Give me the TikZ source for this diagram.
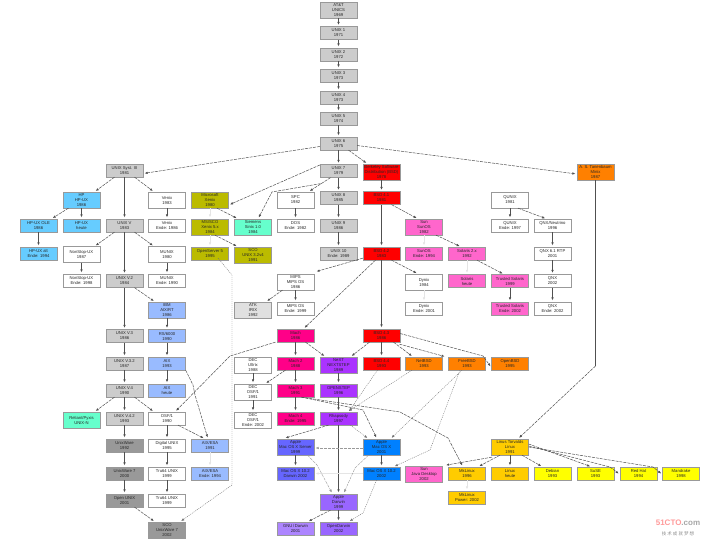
\documentclass[tikz,border=0pt]{standalone}
\usepackage{fontspec}
\setmainfont{Liberation Sans}
\newfontfamily\cjkfont{Noto Sans CJK SC}
\usetikzlibrary{arrows.meta,shadows}
\definecolor{cgrey}{HTML}{CCCCCC}
\definecolor{cdark}{HTML}{999999}
\definecolor{clight}{HTML}{E0E0E0}
\definecolor{cred}{HTML}{FF0000}
\definecolor{corange}{HTML}{FF8000}
\definecolor{cyellow}{HTML}{FFFF00}
\definecolor{cgold}{HTML}{FFCC00}
\definecolor{cpink}{HTML}{FF66CC}
\definecolor{cmach}{HTML}{FF0088}
\definecolor{cnext}{HTML}{AA33FF}
\definecolor{capple}{HTML}{0080FF}
\definecolor{cindigo}{HTML}{6666FF}
\definecolor{cviolet}{HTML}{9966FF}
\definecolor{csky}{HTML}{66CCFF}
\definecolor{cperi}{HTML}{99BBFF}
\definecolor{csea}{HTML}{66FFCC}
\definecolor{colive}{HTML}{BBBB00}
\definecolor{cline}{HTML}{505050}
\tikzstyle{sysbox}=[draw=black!40,line width=.3pt,fill=white,text=black!85,inner sep=0pt,align=center,
  minimum width=37pt,minimum height=13pt,font=\fontsize{4.2}{5}\selectfont,
  drop shadow={shadow xshift=.8pt,shadow yshift=-.8pt,fill=black!55,opacity=.7}]
\tikzstyle{tallbox}=[sysbox,minimum height=16pt]
\tikzstyle{solidline}=[draw=cline,line width=.5pt,shorten >=1.5pt,-{Latex[length=3pt,width=2.5pt]}]
\tikzstyle{dashline}=[solidline,dash pattern=on 3pt off 1pt]
\tikzstyle{dotline}=[solidline,draw=black!55,line width=.4pt,dash pattern=on 1pt off 1pt]
\tikzstyle{paleline}=[dashline,draw=black!40,line width=.4pt]
\tikzstyle{faintline}=[solidline,draw=black!10]
\begin{document}
\begin{tikzpicture}[x=1pt,y=-1pt]
    \useasboundingbox (0,0) rectangle (720,540);
    % main line
    \node [tallbox,fill=cgrey] (unics) at (338.5,10) {AT\&T\\UNICS\\1969};
    \node [sysbox,fill=cgrey] (unixa) at (338.5,33) {UNIX 1\\1971};
    \node [sysbox,fill=cgrey] (unixb) at (338.5,54.5) {UNIX 2\\1972};
    \node [sysbox,fill=cgrey] (unixc) at (338.5,75.5) {UNIX 3\\1973};
    \node [sysbox,fill=cgrey] (unixd) at (338.5,97.5) {UNIX 4\\1973};
    \node [sysbox,fill=cgrey] (unixe) at (338.5,118.5) {UNIX 5\\1974};
    \node [sysbox,fill=cgrey] (unixf) at (338.5,143.5) {UNIX 6\\1975};
    \node [sysbox,fill=cgrey] (unixg) at (338.5,171) {UNIX 7\\1979};
    \node [sysbox,fill=cgrey] (unixh) at (338.5,198) {UNIX 8\\1985};
    \node [sysbox,fill=cgrey] (unixi) at (338.5,225.5) {UNIX 9\\1986};
    \node [sysbox,fill=cgrey] (unixj) at (338.5,253.5) {UNIX 10\\Ende: 1989};
    % system v
    \node [sysbox,fill=cgrey] (sysiii) at (124.5,170.5) {UNIX Syst. III\\1981};
    \node [sysbox,fill=cgrey] (sysv) at (124.5,225.5) {UNIX V\\1983};
    \node [sysbox,fill=cgrey] (svb) at (124.5,281) {UNIX V.2\\1984};
    \node [sysbox,fill=cgrey] (svc) at (124.5,336) {UNIX V.3\\1986};
    \node [sysbox,fill=cgrey] (svd) at (124.5,363.5) {UNIX V.3.2\\1987};
    \node [sysbox,fill=cgrey] (sve) at (124.5,390.5) {UNIX V.4\\1990};
    \node [sysbox,fill=cgrey] (svf) at (124.5,418.5) {UNIX V.4.2\\1993};
    \node [sysbox,fill=cdark] (uware) at (124.5,445.5) {UnixWare\\1992};
    \node [sysbox,fill=cdark] (uwseven) at (124.5,473.5) {UnixWare 7\\2000};
    \node [sysbox,fill=cdark] (openunix) at (124.5,500.5) {Open UNIX\\2001};
    \node [tallbox,fill=cdark] (scowr) at (167,530) {SCO\\UnixWare 7\\2002};
    % hp
    \node [tallbox,fill=csky] (hp) at (81.5,200) {HP\\HP-UX\\1986};
    \node [sysbox,fill=csky] (hpold) at (38.5,225.5) {HP-UX OLE\\1986};
    \node [sysbox,fill=csky] (hpux) at (81.5,225.5) {HP-UX\\heute};
    \node [sysbox,fill=csky] (hpoldend) at (38.5,253.5) {HP-UX alt\\Ende: 1994};
    \node [tallbox] (nonstop) at (81.5,254.5) {NonStop-UX\\1987};
    \node [sysbox] (nonstopend) at (81.5,280.5) {NonStop-UX\\Ende: 1998};
    \node [tallbox,fill=csea] (reliant) at (81.5,420) {Reliant/Pyxis\\UNIX-N};
    % venix, munix, aix, osf
    \node [tallbox] (venix) at (167,200) {Venix\\1983};
    \node [sysbox] (venixend) at (167,225.5) {Venix\\Ende: 1986};
    \node [tallbox] (munix) at (167,254.5) {MUNIX\\1980};
    \node [sysbox] (munixend) at (167,280.5) {MUNIX\\Ende: 1990};
    \node [tallbox,fill=cperi] (aixrt) at (167,310) {IBM\\AIX/RT\\1986};
    \node [sysbox,fill=cperi] (aixsix) at (167,336) {RS/6000\\1990};
    \node [sysbox,fill=cperi] (aixlate) at (167,363.5) {AIX\\1993};
    \node [sysbox,fill=cperi] (aixnow) at (167,390.5) {AIX\\heute};
    \node [sysbox] (osf) at (167,418.5) {OSF/1\\1990};
    \node [sysbox] (digital) at (167,445.5) {Digital UNIX\\1995};
    \node [sysbox] (truone) at (167,473.5) {Tru64 UNIX\\1999};
    \node [sysbox] (trutwo) at (167,500.5) {Tru64 UNIX\\1999};
    \node [sysbox,fill=cperi] (aixesa) at (210,445.5) {AIX/ESA\\1991};
    \node [sysbox,fill=cperi] (aixesaend) at (210,473.5) {AIX/ESA\\Ende: 1994};
    % xenix
    \node [tallbox,fill=colive] (xenix) at (210,200) {Microsoft\\Xenix\\1980};
    \node [tallbox,fill=colive] (xenixb) at (210,227) {MS/SCO\\Xenix 5.x\\1984};
    \node [sysbox,fill=colive] (openserver) at (210,253.5) {OpenServer 5\\1995};
    \node [tallbox,fill=csea] (siemens) at (253,227) {Siemens\\Sinix 1.0\\1984};
    \node [tallbox,fill=colive] (scounix) at (253,255) {SCO\\UNIX 3.2v4\\1991};
    % spc, mips, dec
    \node [tallbox] (spc) at (295.5,200) {SPC\\1982};
    \node [sysbox] (dos) at (295.5,225.5) {DOS\\Ende: 1982};
    \node [tallbox] (mipsa) at (295.5,282) {MIPS\\MIPS OS\\1986};
    \node [tallbox,fill=clight] (atk) at (253,310) {ATK\\IRIX\\1992};
    \node [sysbox] (mipsend) at (295.5,308.5) {MIPS OS\\Ende: 1999};
    \node [tallbox] (deca) at (253,365) {DEC\\Ultrix\\1988};
    \node [tallbox] (decb) at (253,392) {DEC\\OSF/1\\1991};
    \node [tallbox] (decc) at (253,420) {DEC\\OSF/1\\Ende: 2002};
    % mach
    \node [sysbox,fill=cmach] (mach) at (295.5,335.5) {Mach\\1986};
    \node [sysbox,fill=cmach] (machb) at (295.5,363.5) {Mach 2\\1988};
    \node [sysbox,fill=cmach] (machc) at (295.5,390.5) {Mach 3\\1991};
    \node [sysbox,fill=cmach] (machd) at (295.5,418.5) {Mach 4\\Ende: 1995};
    \node [tallbox,fill=cnext] (next) at (338.5,365) {NeXT\\NEXTSTEP\\1989};
    \node [sysbox,fill=cnext] (openstep) at (338.5,390.5) {OPENSTEP\\1996};
    \node [sysbox,fill=cnext] (rhapsody) at (338.5,418.5) {Rhapsody\\1997};
    % apple
    \node [tallbox,fill=cindigo] (macserver) at (295.5,447) {Apple\\Mac OS X Server\\1999};
    \node [sysbox,fill=cindigo] (macserverd) at (295.5,473.5) {Mac OS X 10.2\\Darwin 2002};
    \node [tallbox,fill=capple] (macosx) at (381.5,447) {Apple\\Mac OS X\\2001};
    \node [sysbox,fill=capple] (macten) at (381.5,473.5) {Mac OS X 10.2\\2002};
    \node [tallbox,fill=cviolet] (darwin) at (338.5,502) {Apple\\Darwin\\1999};
    \node [sysbox,fill=cviolet!80] (gnudarwin) at (295.5,528.5) {GNU\,/\,Darwin\\2001};
    \node [sysbox,fill=cviolet] (opendarwin) at (338.5,528.5) {OpenDarwin\\2002};
    % bsd
    \node [tallbox,fill=cred] (bsd) at (381.5,172) {Berkeley Software\\Distribution (BSD)\\1978};
    \node [sysbox,fill=cred] (bsdb) at (381.5,198) {BSD 4.1\\1981};
    \node [sysbox,fill=cred] (bsdc) at (381.5,253.5) {BSD 4.2\\1983};
    \node [sysbox,fill=cred] (bsdd) at (381.5,335.5) {BSD 4.3\\1986};
    \node [sysbox,fill=cred] (bsde) at (381.5,363.5) {BSD 4.4\\1993};
    \node [sysbox,fill=corange] (netbsd) at (424,363.5) {NetBSD\\1993};
    \node [sysbox,fill=corange] (freebsd) at (467,363.5) {FreeBSD\\1993};
    \node [sysbox,fill=corange] (openbsd) at (510,363.5) {OpenBSD\\1995};
    \node [tallbox] (dynix) at (424,282) {Dynix\\1984};
    \node [sysbox] (dynixend) at (424,308.5) {Dynix\\Ende: 2001};
    % sun
    \node [tallbox,fill=cpink] (sun) at (424,227) {Sun\\SunOS\\1982};
    \node [sysbox,fill=cpink] (sunos) at (424,253.5) {SunOS\\Ende: 1994};
    \node [sysbox,fill=cpink] (solaris) at (467,253.5) {Solaris 2.x\\1992};
    \node [sysbox,fill=cpink] (solarisnow) at (467,281) {Solaris\\heute};
    \node [sysbox,fill=cpink] (trusted) at (510,281) {Trusted Solaris\\1999};
    \node [sysbox,fill=cpink] (trustedend) at (510,308.5) {Trusted Solaris\\Ende: 2002};
    \node [tallbox,fill=cpink] (javadesk) at (424,474.5) {Sun\\Java Desktop\\2002};
    % qnx
    \node [tallbox] (qunix) at (510,200) {QUNIX\\1981};
    \node [sysbox] (qnxend) at (510,225.5) {QUNIX\\Ende: 1997};
    \node [sysbox] (neutrino) at (552.5,225.5) {QNX/Neutrino\\1996};
    \node [sysbox] (qnxsix) at (552.5,253.5) {QNX 6.1 RTP\\2001};
    \node [sysbox] (qnx) at (552.5,281) {QNX\\2002};
    \node [sysbox] (qnxlast) at (552.5,308.5) {QNX\\Ende: 2002};
    % linux
    \node [tallbox,fill=corange] (minix) at (595.5,172) {A. S. Tanenbaum\\Minix\\1987};
    \node [tallbox,fill=cgold] (linus) at (510,447) {Linus Torvalds\\Linux\\1991};
    \node [sysbox,fill=cgold] (mklinux) at (467,473.5) {MkLinux\\1996};
    \node [sysbox,fill=cgold] (mkpower) at (467,497.5) {MkLinux\\Power: 2002};
    \node [sysbox,fill=cgold] (linux) at (510,473.5) {Linux\\heute};
    \node [sysbox,fill=cyellow] (debian) at (552.5,473.5) {Debian\\1993};
    \node [sysbox,fill=cyellow] (suse) at (595.5,473.5) {SuSE\\1993};
    \node [sysbox,fill=cyellow] (redhat) at (638.5,473.5) {Red Hat\\1994};
    \node [sysbox,fill=cyellow] (mandrake) at (681,473.5) {Mandrake\\1998};
    \node [text=red!40,font=\bfseries\fontsize{8}{9}\selectfont,inner sep=0pt] (logo) at (678,523) {51CTO\textcolor{black!35}{.com}};
    \node [text=black!45,font=\cjkfont\fontsize{4.5}{5}\selectfont,inner sep=0pt] (slogan) at (678,534) {技 术 成 就 梦 想};
    \coordinate (minixbend) at (595.5,366);
    % solid lines
    \draw [solidline] (unics.south) -- (unixa.north);
    \draw [solidline] (unixa.south) -- (unixb.north);
    \draw [solidline] (unixb.south) -- (unixc.north);
    \draw [solidline] (unixc.south) -- (unixd.north);
    \draw [solidline] (unixd.south) -- (unixe.north);
    \draw [solidline] (unixe.south) -- (unixf.north);
    \draw [solidline] (unixf.south) -- (unixg.north);
    \draw [solidline] (unixg.south) -- (unixh.north);
    \draw [solidline] (unixh.south) -- (unixi.north);
    \draw [solidline] (unixi.south) -- (unixj.north);
    \draw [solidline] (sysiii.south) -- (sysv.north);
    \draw [solidline] (sysv.south) -- (svb.north);
    \draw [solidline] (svb.south) -- (svc.north);
    \draw [solidline] (svc.south) -- (svd.north);
    \draw [solidline] (svd.south) -- (sve.north);
    \draw [solidline] (sve.south) -- (svf.north);
    \draw [solidline] (svf.south) -- (uware.north);
    \draw [solidline] (uware.south) -- (uwseven.north);
    \draw [solidline] (uwseven.south) -- (openunix.north);
    \draw [solidline] (hp.south) -- (hpux.north);
    \draw [solidline] (hpold.south) -- (hpoldend.north);
    \draw [solidline] (nonstop.south) -- (nonstopend.north);
    \draw [solidline] (venix.south) -- (venixend.north);
    \draw [solidline] (munix.south) -- (munixend.north);
    \draw [solidline] (aixrt.south) -- (aixsix.north);
    \draw [solidline] (aixsix.south) -- (aixlate.north);
    \draw [solidline] (aixlate.south) -- (aixnow.north);
    \draw [solidline] (osf.south) -- (digital.north);
    \draw [solidline] (digital.south) -- (truone.north);
    \draw [solidline] (truone.south) -- (trutwo.north);
    \draw [solidline] (spc.south) -- (dos.north);
    \draw [solidline] (mipsa.south) -- (mipsend.north);
    \draw [solidline] (deca.south) -- (decb.north);
    \draw [solidline] (decb.south) -- (decc.north);
    \draw [solidline] (mach.south) -- (machb.north);
    \draw [solidline] (machb.south) -- (machc.north);
    \draw [solidline] (machc.south) -- (machd.north);
    \draw [solidline] (next.south) -- (openstep.north);
    \draw [solidline] (openstep.south) -- (rhapsody.north);
    \draw [solidline] (rhapsody.south) -- (darwin.north);
    \draw [solidline] (macserver.south) -- (macserverd.north);
    \draw [solidline] (macosx.south) -- (macten.north);
    \draw [solidline] (darwin.south) -- (opendarwin.north);
    \draw [solidline] (bsd.south) -- (bsdb.north);
    \draw [solidline] (bsdb.south) -- (bsdc.north);
    \draw [solidline] (bsdc.south) -- (bsdd.north);
    \draw [solidline] (bsdd.south) -- (bsde.north);
    \draw [solidline] (trusted.south) -- (trustedend.north);
    \draw [solidline] (qunix.south) -- (qnxend.north);
    \draw [solidline] (neutrino.south) -- (qnxsix.north);
    \draw [solidline] (qnxsix.south) -- (qnx.north);
    \draw [solidline] (qnx.south) -- (qnxlast.north);
    \draw [solidline] (linus.south) -- (linux.north);
    % arrows with hardly any line
    \draw [faintline] (xenix.south) -- (xenixb.north);
    \draw [faintline] (xenixb.south) -- (openserver.north);
    \draw [faintline] (sun.south) -- (sunos.north);
    \draw [faintline] (solaris.south) -- (solarisnow.north);
    \draw [faintline] (dynix.south) -- (dynixend.north);
    \draw [faintline] (aixesa.south) -- (aixesaend.north);
    \draw [faintline] (mklinux.south) -- (mkpower.north);
    \draw [faintline] (macten.west) -- (macserverd.east);
    % dashed lines
    \draw [dashline] ([yshift=-3pt]unixf.west) -- ([yshift=-3pt]sysiii.east);
    \draw [dashline] ([xshift=10pt]unixf.south) -- ([xshift=-14pt]bsd.north);
    \draw [dashline] ([yshift=-2pt]unixf.east) -- ([yshift=-2pt]minix.west);
    \draw [dashline] ([xshift=-10pt]sysiii.south) -- ([xshift=13pt]hp.north);
    \draw [dashline] ([xshift=10pt]sysiii.south) -- ([xshift=-13pt]venix.north);
    \draw [dashline] ([xshift=-13pt]hp.south) -- ([xshift=13pt]hpold.north);
    \draw [dashline] ([xshift=-10pt]sysv.south) -- ([xshift=13pt]nonstop.north);
    \draw [dashline] ([xshift=10pt]sysv.south) -- ([xshift=-13pt]munix.north);
    \draw [dashline] ([xshift=10pt]svb.south) -- ([xshift=-12pt]aixrt.north);
    \draw [dashline] ([xshift=-10pt]sve.south) -- ([xshift=13pt]reliant.north);
    \draw [dashline] ([xshift=10pt]sve.south) -- ([xshift=-13pt]osf.north);
    \draw [dashline] (aixlate.south east) -- (193,385) -- (195,395) -- ([xshift=-2pt]aixesa.north);
    \draw [dashline] ([xshift=11pt]osf.south) -- ([xshift=-5pt]aixesa.north);
    \draw [dashline] ([xshift=10pt]openunix.south) -- ([xshift=-12pt]scowr.north);
    \draw [dashline] ([yshift=6pt]unixg.west) -- ([yshift=-5pt]xenix.east);
    \draw [dashline] ([xshift=-18pt,yshift=-6pt]unixg.south) -- (272,192) -- ([xshift=5pt]siemens.north);
    \draw [dashline] ([xshift=-8pt]unixg.south) -- ([xshift=13pt]spc.north);
    \draw [dashline] ([xshift=7pt]xenix.south) -- ([xshift=-15pt]siemens.north);
    \draw [dashline] ([xshift=5pt]xenixb.south) -- ([xshift=-15pt]scounix.north);
    \draw [dashline] ([xshift=10pt]bsdb.south) -- ([xshift=-6pt]sun.north);
    \draw [dashline] ([xshift=12pt]sun.south) -- ([xshift=-6pt]solaris.north);
    \draw [dashline] ([xshift=10pt]solaris.south) -- ([xshift=-6pt]trusted.north);
    \draw [dashline] ([xshift=8pt]qunix.south) -- ([xshift=-6pt]neutrino.north);
    \draw [dashline] ([yshift=2pt]bsdc.south west) -- ([xshift=1pt,yshift=2pt]mipsa.north east);
    \draw [dashline] ([xshift=-6pt]bsdc.south) -- ([xshift=8pt]mach.north);
    \draw [dashline] ([xshift=10pt]bsdc.south) -- ([xshift=-6pt]dynix.north);
    \draw [dashline] ([xshift=-13pt]mipsa.south) -- ([xshift=13pt]atk.north);
    \draw [dashline] ([xshift=-20pt]mach.south) -- (230,356) -- ([xshift=8pt]osf.north);
    \draw [dashline] ([xshift=10pt]mach.south) -- ([xshift=-13pt]next.north);
    \draw [dashline] ([xshift=-12pt]bsdd.south) -- ([xshift=12pt]next.north);
    \draw [dashline] ([xshift=12pt]bsdd.south) -- ([xshift=-11pt]netbsd.north);
    \draw [dashline] ([xshift=18pt,yshift=-2pt]bsdd.south) -- ([xshift=-21pt]freebsd.north);
    \draw [dashline] ([yshift=2pt]bsdd.east) -- (483,356) -- ([yshift=-4pt]openbsd.west);
    \draw [dashline] ([xshift=-10pt]machb.south) -- ([xshift=12pt]decb.north);
    \draw [dashline] ([xshift=6pt]machc.south) -- (363,410) -- ([xshift=-4.5pt]macosx.north);
    \draw [dashline] ([xshift=6pt]machc.south) -- (400,412) -- (448,438) -- ([xshift=-4pt]mklinux.north);
    \draw [dashline] ([xshift=-10pt]rhapsody.south) -- ([xshift=-30pt,yshift=.5pt]macserver.north east);
    \draw [dashline] ([xshift=-18pt,yshift=-2pt]linus.south) -- ([xshift=2pt,yshift=1pt]javadesk.north east);
    \draw [dashline] ([xshift=-10pt]linus.south) -- ([xshift=11pt]mklinux.north);
    \draw [dashline] ([xshift=12pt]linus.south) -- ([xshift=-10pt]debian.north);
    \draw [dashline] ([yshift=3pt]linus.east) -- ([xshift=-4pt]suse.north);
    \draw [dashline] ([yshift=1pt]linus.east) -- (610,467) -- ([yshift=-1pt]redhat.west);
    \draw [dashline] (linus.east) -- (653,467) -- ([yshift=-1pt]mandrake.west);
    \draw [dashline] ([xshift=-8pt]darwin.south) -- ([xshift=12pt]gnudarwin.north);
    % solid run, then dashes, to linus
    \draw [draw=cline,line width=.5pt] (minix.south) -- (minixbend);
    \draw [dashline] (minixbend) -- ([xshift=8pt]linus.north);
    % dotted lines
    \draw [dotline] ([xshift=8pt,yshift=2pt]openserver.south) -- (232,275) -- (232,485) -- ([xshift=13pt]scowr.north);
    \draw [dotline] ([xshift=-4pt]bsde.south) -- ([xshift=10pt]rhapsody.north);
    \draw [dotline] ([xshift=-12pt]netbsd.south) -- ([xshift=9pt]rhapsody.north);
    \draw [dotline] ([xshift=-5pt]freebsd.south) -- ([xshift=9pt]macosx.north);
    \draw [dotline] ([xshift=-7pt]freebsd.south) -- (430,450) -- ([xshift=12pt]macten.north);
    \draw [dotline] ([xshift=12pt]rhapsody.south) -- ([xshift=-13pt]macosx.north);
    \draw [paleline] ([xshift=12pt]macserver.south) -- (317,465) -- ([xshift=-6pt]darwin.north);
    \draw [paleline] ([xshift=-13pt]macosx.south) -- (355,468) -- ([xshift=5pt]darwin.north);
    \draw [dotline] ([xshift=-5pt]macten.south) -- (363,513) -- ([xshift=10pt]opendarwin.north);
    \draw [paleline] ([yshift=-1pt]macosx.west) -- ([yshift=-1pt]macserver.east);
\end{tikzpicture}
\end{document}
